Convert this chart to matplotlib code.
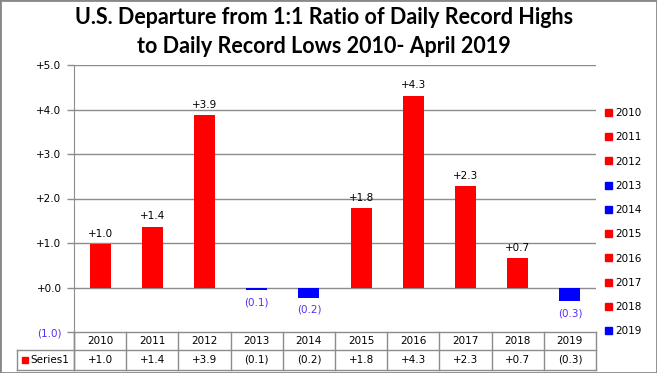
import matplotlib
matplotlib.use("Agg")
import matplotlib.pyplot as plt
from matplotlib.patches import Patch, Rectangle
from matplotlib.transforms import blended_transform_factory
from matplotlib.lines import Line2D

years = ["2010", "2011", "2012", "2013", "2014", "2015", "2016", "2017", "2018", "2019"]
values = [0.97, 1.37, 3.87, -0.06, -0.23, 1.78, 4.31, 2.27, 0.66, -0.31]
yticks = [-1, 0, 1, 2, 3, 4, 5]
title = "U.S. Departure from 1:1 Ratio of Daily Record Highs\nto Daily Record Lows 2010- April 2019"
series_name = "Series1"

POS_COLOR = "#FF0000"
NEG_COLOR = "#0000FF"
NEG_TEXT = "#5a2df0"
GRID = "#8c8c8c"

def fmt(v):
    return "+%.1f" % v if v >= 0 else "(%.1f)" % abs(v)

W, H = 657, 373
fig = plt.figure(figsize=(W / 100, H / 100), dpi=100)
ax = fig.add_axes([74 / W, 1 - 332 / H, (596 - 74) / W, (332 - 65) / H])

x = list(range(len(years)))
colors = [POS_COLOR if v >= 0 else NEG_COLOR for v in values]
ax.bar(x, values, width=0.4, color=colors, zorder=3)
ax.set_xlim(-0.5, len(years) - 0.5)
ax.set_ylim(-1, 5)
ax.set_yticks(yticks)
ax.set_yticklabels([fmt(t) for t in yticks], fontsize=7.5)
for lbl, t in zip(ax.get_yticklabels(), yticks):
    lbl.set_color(NEG_TEXT if t < 0 else "black")
ax.tick_params(axis="y", length=5, color=GRID, width=1, pad=4)
ax.set_xticks([])
for t in yticks:
    if t > -1:
        ax.axhline(t, color=GRID, lw=1, zorder=1)
for s in ["top", "right", "bottom"]:
    ax.spines[s].set_visible(False)
ax.spines["left"].set_color(GRID)

# data labels
for xi, v in zip(x, values):
    if v >= 0:
        ax.annotate(fmt(v), (xi, v), xytext=(0, 4), textcoords="offset points",
                    ha="center", va="bottom", fontsize=7.5, color="black")
    else:
        ax.annotate(fmt(v), (xi, v), xytext=(0, -5), textcoords="offset points",
                    ha="center", va="top", fontsize=7.5, color=NEG_TEXT)

# data table below axes
tr = blended_transform_factory(ax.transData, ax.transAxes)
ah = (332 - 65)
r1 = 0.0
r2 = -(350 - 332) / ah
r3 = -(370 - 332) / ah
left_px = 17
left_ax = (left_px - 74) / (596 - 74)
kw = dict(color=GRID, lw=1, clip_on=False)
ax.add_line(Line2D([0, 1], [r1, r1], transform=ax.transAxes, **kw))
ax.add_line(Line2D([left_ax, 1], [r2, r2], transform=ax.transAxes, **kw))
ax.add_line(Line2D([left_ax, 1], [r3, r3], transform=ax.transAxes, **kw))
for b in [i - 0.5 for i in range(len(years) + 1)]:
    ax.add_line(Line2D([b, b], [r1, r3], transform=tr, **kw))
ax.add_line(Line2D([0, 0], [r1, r3], transform=ax.transAxes, **kw))
ax.add_line(Line2D([left_ax, left_ax], [r2, r3], transform=ax.transAxes, **kw))
for xi, yr, v in zip(x, years, values):
    ax.text(xi, (r1 + r2) / 2, yr, transform=tr, ha="center", va="center", fontsize=7.5)
    ax.text(xi, (r2 + r3) / 2, fmt(v), transform=tr, ha="center", va="center", fontsize=7.5)
sq = 6 / (596 - 74)
ax.add_patch(Rectangle((left_ax + 5 / 522, (r2 + r3) / 2 - 3 / ah), sq, 6 / ah,
                       transform=ax.transAxes, color=POS_COLOR, clip_on=False))
ax.text(left_ax + 13 / 522, (r2 + r3) / 2, series_name, transform=ax.transAxes,
        ha="left", va="center", fontsize=7.5)

# legend
handles = [Patch(color=c, label=y) for c, y in zip(colors, years)]
fig.legend(handles=handles, loc="upper left", bbox_to_anchor=(605 / W, 1 - 108 / H),
           frameon=False, fontsize=7.5, handlelength=0.65, handleheight=0.65,
           handletextpad=0.35, labelspacing=1.37, borderaxespad=0, borderpad=0)

# title
fig.text(324 / W, 1 - 32 / H, title, ha="center", va="center", fontsize=15.5,
         fontweight="bold", family="Lato", linespacing=1.5)

# figure border
fig.patches.append(Rectangle((0, 0), 1, 1, transform=fig.transFigure, fill=False,
                             edgecolor="#888888", lw=2))

fig.savefig("out.png", dpi=100)
